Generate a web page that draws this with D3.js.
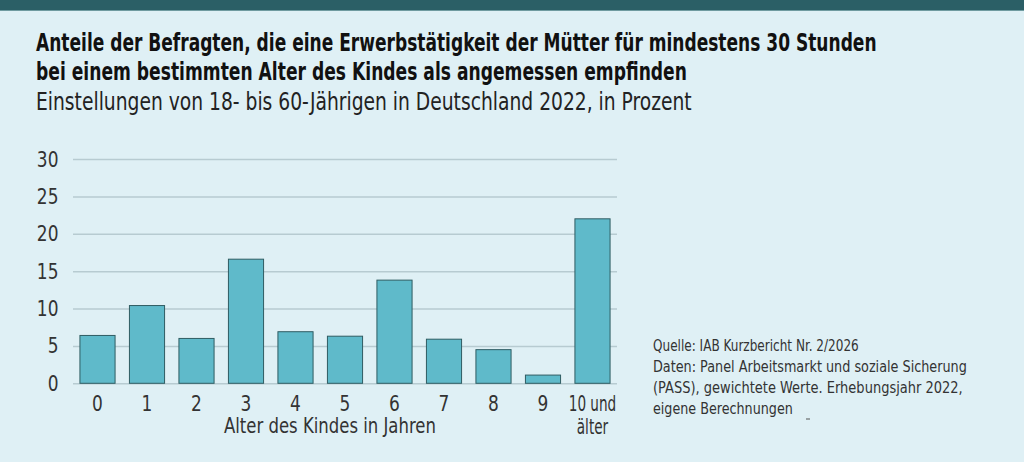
<!DOCTYPE html>
<html><head><meta charset="utf-8">
<script src="https://cdn.jsdelivr.net/npm/d3@7"></script>
<style>
html,body{margin:0;padding:0;background:#dff0f5;}
svg{display:block;}
text{font-family:"Liberation Sans Narrow","DejaVu Sans Condensed","Roboto",sans-serif;}
</style></head>
<body>
<svg id="chart" width="1024" height="462"></svg>
<script>
const categories = ["0","1","2","3","4","5","6","7","8","9","10 und\nälter"];
const values = [6.4, 10.4, 6.0, 16.6, 6.9, 6.3, 13.8, 5.9, 4.5, 1.1, 22.0];
const yTicks = [0, 5, 10, 15, 20, 25, 30];
const titleLines = [
  "Anteile der Befragten, die eine Erwerbstätigkeit der Mütter für mindestens 30 Stunden",
  "bei einem bestimmten Alter des Kindes als angemessen empfinden"
];
const subtitle = "Einstellungen von 18- bis 60-Jährigen in Deutschland 2022, in Prozent";
const xAxisTitle = "Alter des Kindes in Jahren";
const sourceLines = [
  "Quelle: IAB Kurzbericht Nr. 2/2026",
  "Daten: Panel Arbeitsmarkt und soziale Sicherung",
  "(PASS), gewichtete Werte. Erhebungsjahr 2022,",
  "eigene Berechnungen"
];

const svg = d3.select("#chart");
svg.append("rect").attr("x",0).attr("y",0).attr("width",1024).attr("height",462).attr("fill","#dff0f5");
svg.append("rect").attr("x",0).attr("y",0).attr("width",1024).attr("height",10).attr("fill","#2b5f66");
svg.append("rect").attr("x",0).attr("y",10).attr("width",1024).attr("height",1).attr("fill","#6f9ba0");

// place text at (x,y) and compress horizontally to a target width (or by a factor)
function placeText(parent, str, x, y, opts){
  const t = parent.append("text").attr("x",0).attr("y",0)
    .attr("font-size",opts.size).attr("fill",opts.fill||"#333")
    .attr("font-weight",opts.weight||"normal").text(str);
  const w = t.node().getComputedTextLength();
  const s = opts.width ? opts.width / w : (opts.scale || 1);
  const anchor = opts.anchor || "start";
  const x0 = anchor === "start" ? x : anchor === "middle" ? x - w*s/2 : x - w*s;
  t.attr("transform",`translate(${x0},${y}) scale(${s},1)`);
  return t;
}

// titles
const titleW = [841, 651];
titleLines.forEach((t,i)=>{
  placeText(svg, t, 36, 51 + i*29, {size:25, weight:"bold", fill:"#111", width:titleW[i]});
});
placeText(svg, subtitle, 36, 110, {size:25, fill:"#222", width:656});

const x = d3.scaleBand().domain(categories).range([73,617]).paddingInner(0.27).paddingOuter(0.13);
const y = d3.scaleLinear().domain([0,30]).range([383.3,159]);

// grid
const grid = svg.append("g").attr("transform","translate(73,0)")
  .call(d3.axisLeft(y).tickValues(yTicks).tickSize(-(617-73)).tickFormat(""));
grid.select(".domain").remove();
grid.selectAll(".tick line").attr("stroke","#b7cbd1").attr("stroke-width",1.5);

// y labels
const yl = svg.append("g");
yTicks.forEach(d=>{
  placeText(yl, String(d), 58.5, y(d)+7.5, {size:21, anchor:"end", scale:0.9});
});

// bars
svg.append("g").selectAll("rect").data(values).join("rect")
  .attr("x",(d,i)=>x(categories[i])+0.5)
  .attr("y",d=>y(d))
  .attr("width",x.bandwidth()-1)
  .attr("height",d=>y(0)-y(d))
  .attr("fill","#5fbaca").attr("stroke","#2f5c62").attr("stroke-width",1);

// x labels
const xl = svg.append("g");
categories.forEach(d=>{
  const cx = x(d) + x.bandwidth()/2;
  d.split("\n").forEach((p,j)=>{
    placeText(xl, p, cx, 410.5 + j*23, {size:21, anchor:"middle", scale: p.length > 2 ? 0.72 : 0.9});
  });
});

placeText(svg, xAxisTitle, 330, 433, {size:21, anchor:"middle", width:212});

// source
const srcW = [206, 314, 310, 140];
sourceLines.forEach((t,i)=>{
  placeText(svg, t, 653, 350.5 + i*21.2, {size:15.5, fill:"#333", width:srcW[i]});
});
svg.append("rect").attr("x",806).attr("y",418.5).attr("width",4).attr("height",1).attr("fill","#555");
</script>
</body></html>
